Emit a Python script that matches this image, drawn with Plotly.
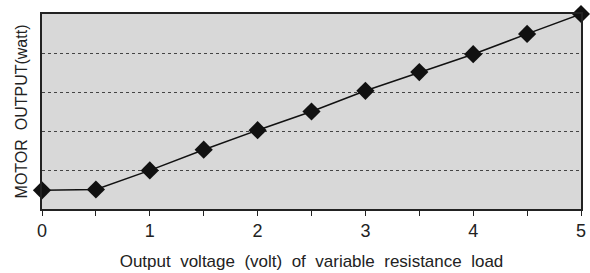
import plotly.graph_objects as go

voltage = [0, 0.5, 1, 1.5, 2, 2.5, 3, 3.5, 4, 4.5, 5]
motor_output = [0.48, 0.50, 0.99, 1.52, 2.02, 2.50, 3.03, 3.51, 3.97, 4.49, 5.0]
tick_vals = [0, 0.5, 1, 1.5, 2, 2.5, 3, 3.5, 4, 4.5, 5]
tick_text = ["0", "", "1", "", "2", "", "3", "", "4", "", "5"]

NB = "\u00a0"
x_title = (NB * 2).join(["Output", "voltage", "(volt)", "of", "variable", "resistance", "load"])
y_title = "MOTOR" + NB * 2 + "OUTPUT(watt)"

fig = go.Figure()
fig.add_trace(go.Scatter(
    x=voltage, y=motor_output, mode="lines+markers",
    line=dict(color="#111111", width=1.5),
    marker=dict(symbol="diamond", size=14, color="#111111"),
    cliponaxis=False, showlegend=False,
))

font_family = "Liberation Sans, Arial, sans-serif"
fig.update_layout(
    width=590, height=273,
    margin=dict(l=42, r=4, t=14, b=64),
    paper_bgcolor="white", plot_bgcolor="#d8d8d8",
    font=dict(family=font_family, size=17, color="#222222"),
    xaxis=dict(
        range=[0, 5], tickvals=tick_vals, ticktext=tick_text,
        ticks="outside", ticklen=5, tickcolor="#222222", tickwidth=1,
        showline=True, linecolor="#222222", linewidth=1.5, mirror=True,
        showgrid=False, zeroline=False,
        tickfont=dict(size=18),
        title=dict(text=x_title, font=dict(size=17), standoff=15),
    ),
    yaxis=dict(
        range=[0, 5], dtick=1, showticklabels=False, ticks="",
        showgrid=True, gridcolor="#444444", griddash="dot", gridwidth=1,
        showline=True, linecolor="#222222", linewidth=1.5, mirror=True,
        zeroline=False,
        title=dict(text=y_title, font=dict(size=16), standoff=9),
    ),
)

fig.write_html("out.html", config={"displayModeBar": False},
               post_script="document.body.style.margin='0';")
